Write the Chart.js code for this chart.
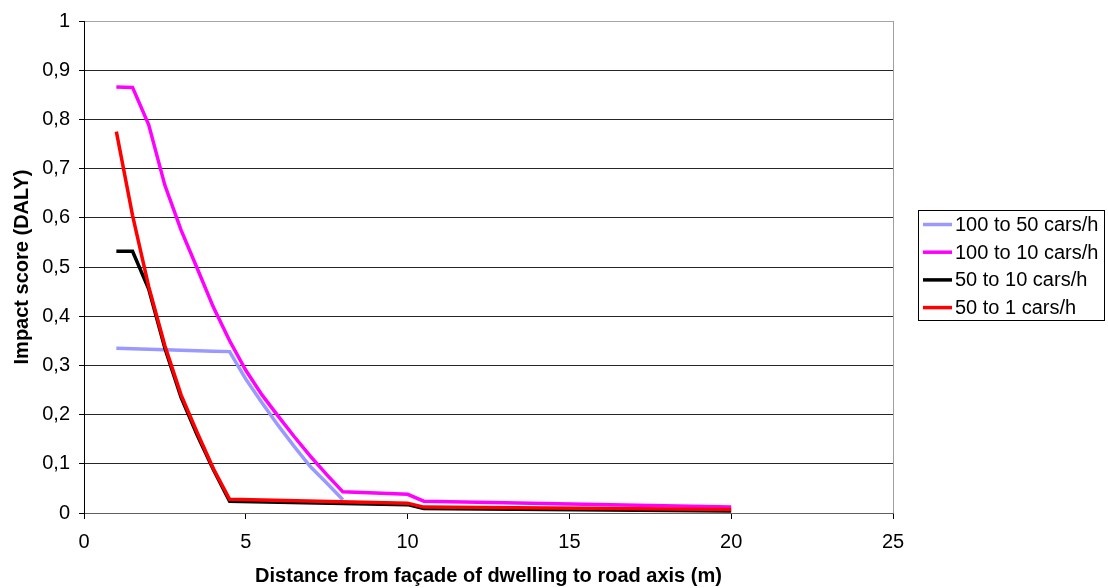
<!DOCTYPE html>
<html>
<head>
<meta charset="utf-8">
<script src="https://cdn.jsdelivr.net/npm/chart.js@4"></script>
<style>
html,body{margin:0;padding:0;background:#fff;}
#wrap{width:1108px;height:588px;}
</style>
</head>
<body>
<div id="wrap"><canvas id="c" width="1108" height="588"></canvas></div>
<script>
const distance = [1, 1.5, 2, 2.5, 3, 3.5, 4, 4.5, 5, 5.5, 6, 6.5, 7, 7.5, 8, 10, 10.5, 20];
const s100to50 = [0.335, 0.334, 0.333, 0.332, 0.331, 0.330, 0.329, 0.328, 0.272, 0.224, 0.178, 0.135, 0.094, 0.061, 0.027, null, null, null];
const s100to10 = [0.866, 0.865, 0.789, 0.666, 0.575, 0.497, 0.418, 0.350, 0.290, 0.240, 0.197, 0.155, 0.115, 0.078, 0.043, 0.038, 0.024, 0.012];
const s50to10  = [0.532, 0.532, 0.455, 0.335, 0.235, 0.158, 0.088, 0.024, null, null, null, null, null, null, null, 0.017, 0.009, 0.004];
const s50to1   = [0.775, 0.605, 0.460, 0.340, 0.240, 0.163, 0.090, 0.028, null, null, null, null, null, null, null, 0.020, 0.012, 0.007];
const seriesNames = ['100 to 50 cars/h', '100 to 10 cars/h', '50 to 10 cars/h', '50 to 1 cars/h'];
const seriesColors = ['#9999FF', '#FF00FF', '#000000', '#FF0000'];
const xTitle = 'Distance from façade of dwelling to road axis (m)';
const yTitle = 'Impact score (DALY)';

const FONT = '"Liberation Sans", Arial, sans-serif';
const allSeries = [s100to50, s100to10, s50to10, s50to1];

const datasets = allSeries.map((vals, i) => ({
  label: seriesNames[i],
  data: distance.map((d, j) => ({x: d, y: vals[j]})),
  borderColor: seriesColors[i],
  backgroundColor: seriesColors[i],
  borderWidth: 3.5,
  pointRadius: 0,
  tension: 0,
  spanGaps: true,
  order: 4 - i
}));

const legendPlugin = {
  id: 'boxLegend',
  afterDraw(chart) {
    const ctx = chart.ctx;
    ctx.save();
    const bx = 918.5, by = 210.5, bw = 186, bh = 110;
    ctx.fillStyle = '#fff';
    ctx.fillRect(bx, by, bw, bh);
    ctx.strokeStyle = '#000';
    ctx.lineWidth = 1;
    ctx.strokeRect(bx, by, bw, bh);
    ctx.font = '20px ' + FONT;
    ctx.textBaseline = 'middle';
    ctx.textAlign = 'left';
    chart.data.datasets.forEach((ds, i) => {
      const cy = 224.5 + i * 27.7;
      ctx.strokeStyle = ds.borderColor;
      ctx.lineWidth = 3.5;
      ctx.beginPath();
      ctx.moveTo(923, cy);
      ctx.lineTo(952, cy);
      ctx.stroke();
      ctx.fillStyle = '#000';
      ctx.fillText(ds.label, 955, cy + 1);
    });
    ctx.restore();
  }
};

new Chart(document.getElementById('c'), {
  type: 'line',
  data: { datasets },
  plugins: [legendPlugin],
  options: {
    responsive: false,
    animation: false,
    devicePixelRatio: 1,
    layout: { padding: { top: 19, right: 215, bottom: 0, left: 0 } },
    plugins: { legend: { display: false }, tooltip: { enabled: false } },
    scales: {
      x: {
        type: 'linear',
        min: 0, max: 25,
        afterFit(scale) { scale.height = 75; },
        ticks: { stepSize: 5, color: '#000', font: { family: FONT, size: 20 }, padding: 11, maxRotation: 0 },
        grid: {
          color: (c) => (c.tick && c.tick.value === 25) ? '#a0a0a0' : 'rgba(0,0,0,0)',
          tickColor: '#000', tickLength: 6, drawTicks: true
        },
        border: { color: '#606060', width: 1 },
        title: { display: true, text: xTitle, color: '#000', font: { family: FONT, size: 20, weight: 'bold' }, padding: { top: 0, bottom: 0 } }
      },
      y: {
        min: 0, max: 1,
        afterFit(scale) { scale.width = 84; },
        ticks: {
          stepSize: 0.1, color: '#000', font: { family: FONT, size: 20 }, padding: 9,
          callback: (v) => String(Math.round(v * 10) / 10).replace('.', ',')
        },
        grid: {
          color: (c) => {
            if (!c.tick) return '#262626';
            const v = Math.round(c.tick.value * 10) / 10;
            if (v === 1) return '#a6a6a6';
            if (v === 0) return '#606060';
            return '#262626';
          },
          tickColor: '#000', tickLength: 5
        },
        border: { color: '#000', width: 1 },
        title: { display: true, text: yTitle, color: '#000', font: { family: FONT, size: 20, weight: 'bold' }, padding: { top: 10, bottom: 0 } }
      }
    }
  }
});
</script>
</body>
</html>
